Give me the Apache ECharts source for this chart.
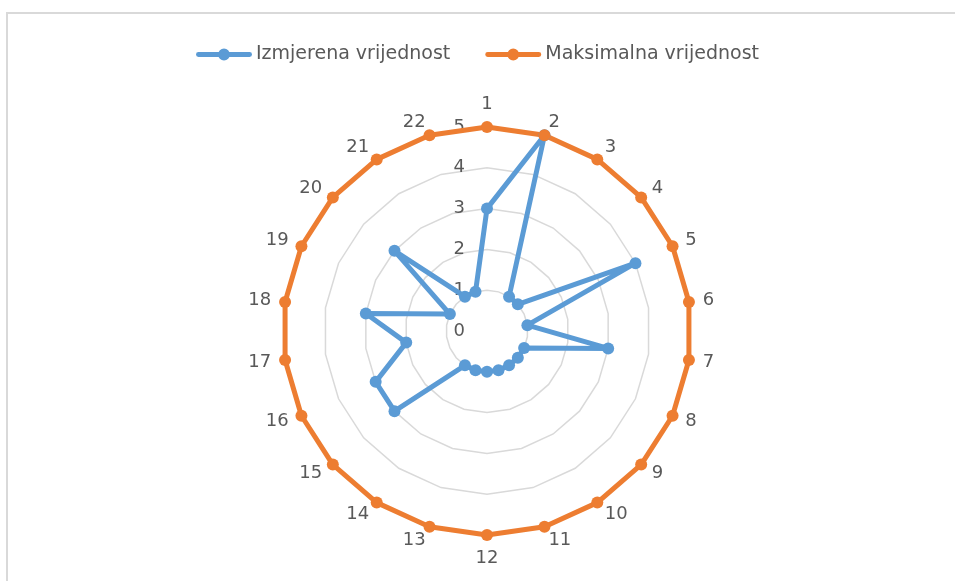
<!DOCTYPE html>
<html>
<head>
<meta charset="utf-8">
<script src="https://cdn.jsdelivr.net/npm/echarts@6/dist/echarts.min.js"></script>
<style>
html,body{margin:0;padding:0;background:#fff;}
#main{width:955px;height:581px;}
</style>
</head>
<body>
<div id="main"></div>
<script>
const categories = ['1','2','3','4','5','6','7','8','9','10','11','12','13','14','15','16','17','18','19','20','21','22'];
const measured = [3,5,1,1,4,1,3,1,1,1,1,1,1,1,3,3,2,3,1,3,1,1];
const maximum = [5,5,5,5,5,5,5,5,5,5,5,5,5,5,5,5,5,5,5,5,5,5];
const seriesNames = ['Izmjerena vrijednost','Maksimalna vrijednost'];
const seriesColors = ['#5B9BD5','#ED7D31'];
const axisMin = 0, axisMax = 5, axisStep = 1;

// ECharts radar runs counter-clockwise; the reference runs clockwise
const order = categories.map((c,i)=>i);
const idx = [0].concat(order.slice(1).reverse());

const center = [487, 331];
const radius = 204;
const font = 'DejaVu Sans';
const textColor = '#595959';
// legend icon: line with a circle marker
const legendIcon = 'path://M2,3.5 L54,3.5 A2.5,2.5 0 0,1 54,8.5 L2,8.5 A2.5,2.5 0 0,1 2,3.5 Z M22,6 A6,6 0 1,1 34,6 A6,6 0 1,1 22,6 Z';

const chart = echarts.init(document.getElementById('main'));
chart.setOption({
  animation:false,
  backgroundColor:'#fff',
  graphic:[{type:'rect',shape:{x:7,y:13,width:1000,height:1000},style:{fill:'none',stroke:'#D9D9D9',lineWidth:2},z:-10}],
  legend:{
    top:40, left:'center',
    itemWidth:56, itemHeight:12, itemGap:35,
    textStyle:{fontFamily:font,fontSize:19,color:textColor,padding:[0,0,0,-1]},
    data:seriesNames.map(n=>({name:n,icon:legendIcon}))
  },
  radar:{
    center:center, radius:radius, startAngle:90,
    splitNumber:5, shape:'polygon',
    indicator: idx.map(i=>({name:categories[i], min:axisMin, max:axisMax})),
    axisName:{color:textColor,fontFamily:font,fontSize:18},
    nameGap:14,
    axisLine:{show:false},
    axisTick:{show:false},
    axisLabel:{show:false},
    splitLine:{lineStyle:{color:'#D9D9D9',width:1.5}},
    splitArea:{show:false}
  },
  polar:{center:center, radius:radius},
  angleAxis:{type:'value',startAngle:90,show:false,min:0,max:360},
  radiusAxis:{
    type:'value',min:axisMin,max:axisMax,interval:axisStep,
    axisLine:{show:false},axisTick:{show:false},splitLine:{show:false},
    axisLabel:{color:textColor,fontFamily:font,fontSize:18,margin:22}
  },
  series:[{
    type:'radar',
    symbol:'circle', symbolSize:12,
    data:[
      {name:seriesNames[0],value:idx.map(i=>measured[i]),
       lineStyle:{color:seriesColors[0],width:5},itemStyle:{color:seriesColors[0]}},
      {name:seriesNames[1],value:idx.map(i=>maximum[i]),
       lineStyle:{color:seriesColors[1],width:5},itemStyle:{color:seriesColors[1]}}
    ]
  }],
  color:seriesColors
});
</script>
</body>
</html>
